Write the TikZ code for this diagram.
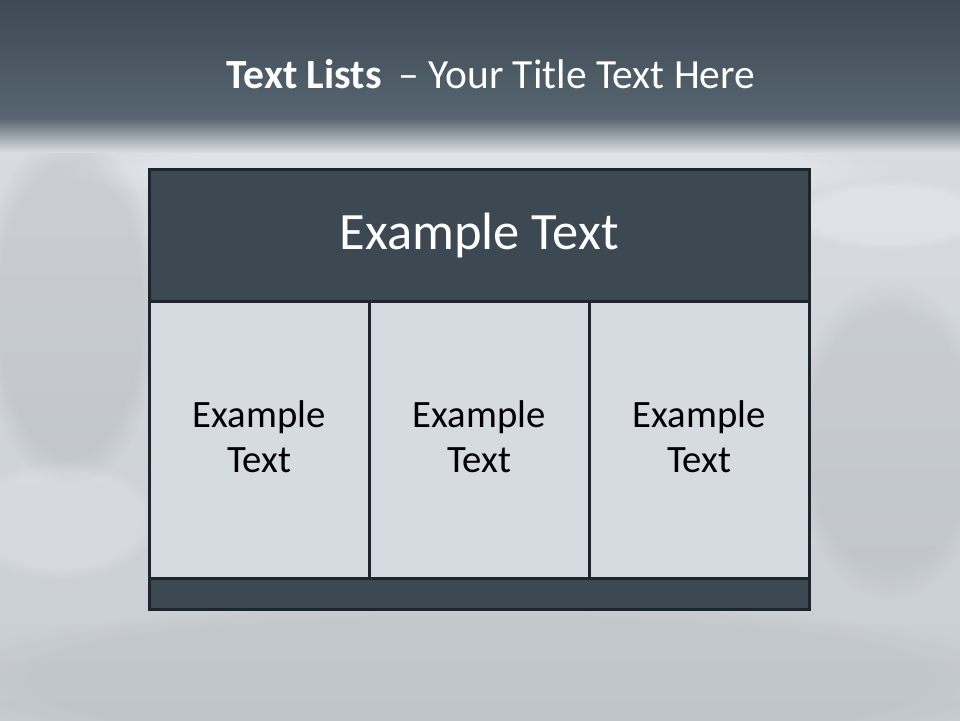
\documentclass[tikz,border=0pt]{standalone}
\usepackage{fontspec}
\setmainfont{Carlito}
\usetikzlibrary{fadings}
\definecolor{hdrfill}{HTML}{3C4852}
\definecolor{cellfill}{HTML}{D5DBE1}
\definecolor{edge}{HTML}{1E262D}
\definecolor{bandtop}{HTML}{3D4954}
\definecolor{bandbot}{HTML}{56656F}
\definecolor{bglight}{HTML}{D8DCE1}
\definecolor{bgmid}{HTML}{C8CDD3}
\tikzset{
  box/.style={draw=edge, line width=2.6pt, inner sep=0pt, anchor=north west},
  hdrbox/.style={box, fill=hdrfill},
  cellbox/.style={box, fill=cellfill, minimum width=220pt, minimum height=277pt},
  celltext/.style={font=\fontsize{38.7}{45.5}\selectfont, text=black, align=center},
  blob/.style={path fading=circle with fuzzy edge 20 percent, fit fading},
}
\begin{document}
\begin{tikzpicture}[x=1pt,y=-1pt]
\useasboundingbox (0,0) rectangle (960,720);
% background
\shade[top color=bglight, bottom color=bgmid] (0,140) rectangle (960,720);
% faint blurred shapes
\fill[black, opacity=0.06, blob] (70,310) ellipse (90pt and 180pt);
\fill[white, opacity=0.18, blob] (60,520) ellipse (100pt and 60pt);
\fill[white, opacity=0.20, blob] (890,215) ellipse (100pt and 35pt);
\fill[black, opacity=0.05, blob] (890,440) ellipse (100pt and 160pt);
\fill[black, opacity=0.035, blob] (480,680) ellipse (560pt and 80pt);
\fill[white, opacity=0.18, blob] (480,170) ellipse (420pt and 40pt);
% title band
\shade[top color=bandtop, bottom color=bandbot] (0,0) rectangle (960,118);
\shade[top color=bandbot, bottom color=bglight] (0,118) rectangle (960,152);
% title
\node[anchor=base, text=white, font=\fontsize{41.5}{50}\selectfont] (title) at (491,88)
  {\textbf{Text Lists}\hspace{0.4em}– Your Title Text Here};
% table
\node[hdrbox, minimum width=660pt, minimum height=132pt] (hdr) at (148,168) {};
\node[text=white, font=\fontsize{52.5}{60}\selectfont] (hdrtext) at (hdr.center) {Example Text};
\node[cellbox] (c1) at (148,300) {};
\node[cellbox] (c2) at (368,300) {};
\node[cellbox] (c3) at (588,300) {};
\node[celltext] (t1) at ([yshift=3pt]c1.center) {Example\\Text};
\node[celltext] (t2) at ([yshift=3pt]c2.center) {Example\\Text};
\node[celltext] (t3) at ([yshift=3pt]c3.center) {Example\\Text};
\node[hdrbox, minimum width=660pt, minimum height=31pt] (foot) at (148,577) {};
\end{tikzpicture}
\end{document}
